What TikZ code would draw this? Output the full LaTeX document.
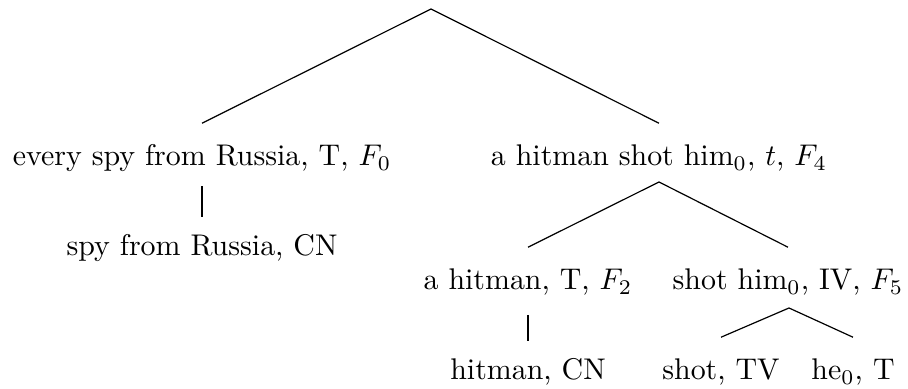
\documentclass[tikz,border=0pt]{standalone}
\begin{document}
\begin{tikzpicture}[x=0.3344pt,y=-0.3344pt,
  lbl/.style={inner sep=0pt, outer xsep=0pt, outer ysep=7.3pt, anchor=base, text height=7pt, text depth=2pt},
  branch/.style={line width=0.4pt}]
\useasboundingbox (0,0) rectangle (908,389);
\coordinate (root) at (431,9);
\node[lbl] (n1) at (202,166) {every spy from Russia, T, $F_0$};
\node[lbl] (n2) at (659,166) {a hitman shot him$_0$, $t$, $F_4$};
\node[lbl] (n3) at (202,256) {spy from Russia, CN};
\node[lbl] (n4) at (528,290) {a hitman, T, $F_2$};
\node[lbl] (n5) at (788,290) {shot him$_0$, IV, $F_5$};
\node[lbl] (n6) at (528,380) {hitman, CN};
\node[lbl] (n7) at (721,380) {shot, TV};
\node[lbl] (n8) at (853,380) {he$_0$, T};
\coordinate (a2) at (659,182);
\coordinate (a5) at (789,308);
\draw[branch] (n1.north) -- (root) -- (n2.north);
\draw[branch] ([yshift=2.5pt]n1.south) -- ([yshift=-1.3pt]n3.north);
\draw[branch] (n4.north) -- (a2) -- (n5.north);
\draw[branch] ([yshift=1pt]n4.south) -- ([yshift=-1.3pt]n6.north);
\draw[branch] (n7.north) -- (a5) -- (n8.north);
\end{tikzpicture}
\end{document}
